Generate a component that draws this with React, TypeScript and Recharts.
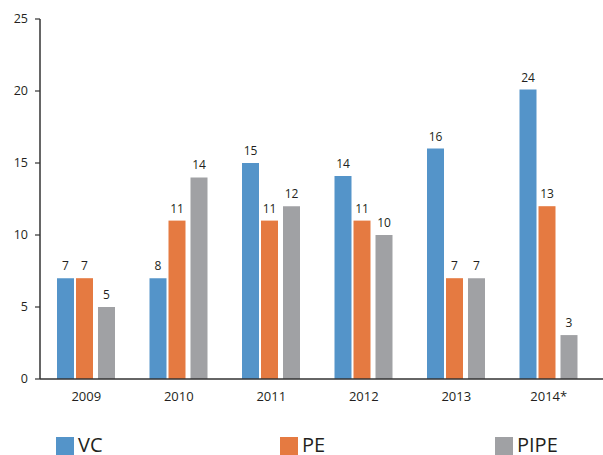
import { BarChart, Bar, XAxis, YAxis, Legend, LabelList } from 'recharts';

// Years on the x axis
const years = ['2009', '2010', '2011', '2012', '2013', '2014*'];

// Series names, in legend order
const seriesNames = ['VC', 'PE', 'PIPE'];

// Bar heights as drawn in the source
const vcBars = [7, 7, 15, 14.1, 16, 20.1];
const peBars = [7, 11, 11, 11, 7, 12];
const pipeBars = [5, 14, 12, 10, 7, 3.05];

// Numbers printed above the bars (not always equal to the bar height)
const vcLabels = [7, 8, 15, 14, 16, 24];
const peLabels = [7, 11, 11, 11, 7, 13];
const pipeLabels = [5, 14, 12, 10, 7, 3];

const yTicks = [0, 5, 10, 15, 20, 25];

const data = years.map((year, i) => ({
    year,
    VC: vcBars[i],
    PE: peBars[i],
    PIPE: pipeBars[i],
    vcLabel: vcLabels[i],
    peLabel: peLabels[i],
    pipeLabel: pipeLabels[i],
}));

const FONT = '"Open Sans", sans-serif';
const INK = '#231F20';
const COLORS: Record<string, string> = { VC: '#5494C9', PE: '#E57A41', PIPE: '#A0A1A4' };

// PE bar sits a little closer to VC than to PIPE in the original
const PE_SHIFT = -1.5;

const valueLabel = (shift: number) => (props: any) => {
    const { x, y, width, value } = props;
    return (
        <text
            x={Number(x) + Number(width) / 2 + shift}
            y={Number(y) - 8}
            textAnchor="middle"
            fontFamily={FONT}
            fontSize={12}
            fill={INK}
        >
            {value}
        </text>
    );
};

const shiftedBar = (shift: number) => (props: any) => {
    const { x, y, width, height, fill } = props;
    return <rect x={x + shift} y={y} width={width} height={height} fill={fill} />;
};

// legend item positions (left edge of each swatch)
const legendX = [56, 280, 495];

const renderLegend = () => (
    <svg width={603} height={22} style={{ display: 'block', overflow: 'visible' }}>
        {seriesNames.map((name, i) => (
            <g key={name}>
                <rect x={legendX[i]} y={4} width={18} height={18} fill={COLORS[name]} />
                <text x={legendX[i] + 22} y={19} fontFamily={FONT} fontSize={20} fill={INK}>
                    {name}
                </text>
            </g>
        ))}
    </svg>
);

export default function App() {
    return (
        <div style={{ position: 'absolute', left: 0, top: 0, width: 603, height: 455, background: '#fff' }}>
            <BarChart
                width={603}
                height={455}
                data={data}
                margin={{ top: 19, right: 0, bottom: 0, left: 0 }}
                barSize={17}
                barGap={3.5}
            >
                <XAxis
                    dataKey="year"
                    height={54}
                    padding={{ left: 0, right: 8 }}
                    axisLine={{ stroke: '#333', strokeWidth: 1.5 }}
                    tickLine={false}
                    tickSize={0}
                    tickMargin={13}
                    tick={{ fontFamily: FONT, fontSize: 13, fill: INK }}
                />
                <YAxis
                    width={40}
                    domain={[0, 25]}
                    ticks={yTicks}
                    interval={0}
                    axisLine={{ stroke: '#333', strokeWidth: 1.5 }}
                    tickLine={{ stroke: '#333', strokeWidth: 1.2 }}
                    tickSize={5}
                    tickMargin={7}
                    tick={{ fontFamily: FONT, fontSize: 12.5, fill: INK }}
                />
                <Legend
                    verticalAlign="bottom"
                    content={renderLegend}
                    wrapperStyle={{ left: 0, bottom: 0, width: 603, height: 22 }}
                />
                <Bar dataKey="VC" fill={COLORS.VC} isAnimationActive={false}>
                    <LabelList dataKey="vcLabel" content={valueLabel(0)} />
                </Bar>
                <Bar dataKey="PE" fill={COLORS.PE} isAnimationActive={false} shape={shiftedBar(PE_SHIFT)}>
                    <LabelList dataKey="peLabel" content={valueLabel(PE_SHIFT)} />
                </Bar>
                <Bar dataKey="PIPE" fill={COLORS.PIPE} isAnimationActive={false}>
                    <LabelList dataKey="pipeLabel" content={valueLabel(0)} />
                </Bar>
            </BarChart>
        </div>
    );
}
